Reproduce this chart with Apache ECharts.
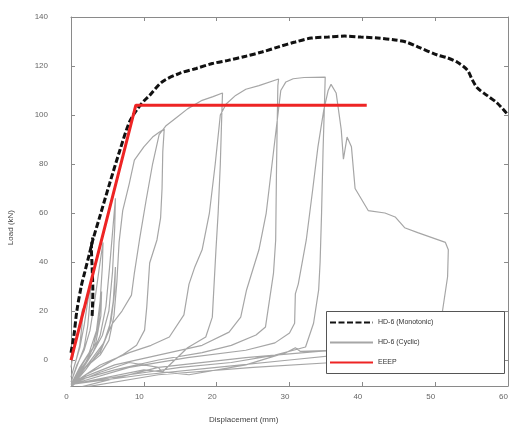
<!DOCTYPE html>
<html><head><meta charset="utf-8">
<script src="https://cdn.jsdelivr.net/npm/echarts@6/dist/echarts.min.js"></script>
<style>html,body{margin:0;padding:0;background:#fff}#c{width:511px;height:429px}</style>
</head><body><div id="c"></div>
<script>
// ---- data ----
const xTicks = [0,10,20,30,40,50,60];
const yTicks = [0,20,40,60,80,100,120,140];
const legendNames = ['HD-6 (Monotonic)','HD-6 (Cyclic)','EEEP'];
const monoX = [0,0.4,0.8,1.4,1.9,2.5,3,4,5.3,6.7,8,9,10.1,10.8,12.5,14.9,17.2,19.4,21.7,24,26.2,28.5,30.8,33,35.3,37.6,39.8,42.1,44.5,46,47.6,50.3,51.7,53,54.4,55.1,55.8,57.1,58.5,60];
const monoY = [3,10,20,30,36,43,49,59,72,85.5,97,102,106,108,113.5,117,119,121,122.4,124,125.7,127.8,129.8,131.4,131.8,132.2,131.8,131.4,130.6,129.8,127.8,124.5,123.3,121.6,118.4,114.3,111,108,104.9,100];
const monoX2 = [2.9,3.0,2.9,2.8,3.0];
const monoY2 = [18,28,38,46,50];
const eeepX = [0,8.9,40.6];
const eeepY = [0,104,104];
const cycS1 = [[0,-3],[0.4,4],[0.9,11],[1.4,18],[1.6,21],[1.5,14],[1.2,6],[0.7,0],[0,-7]];
const cycS2 = [[0.6,-1],[1.2,5],[1.8,14],[2.3,24],[2.7,32],[2.6,24],[2.3,14],[1.8,5],[1,-1],[0,-9]];
const cycS3 = [[0.8,-2],[1.8,4],[2.6,12],[3.3,25],[3.9,38],[4.4,48],[4.3,38],[4,24],[3.5,12],[2.5,3],[1.2,-3],[0,-10]];
const cycS3t = [[1.5,-2],[3,5],[3.8,15],[4.2,28],[4.1,18],[3.4,7],[2,-1],[0,-11]];
const cycC4 = [[1.5,-3],[3,3],[4,10],[4.8,22],[5.3,38],[5.7,52],[6.1,66],[6,54],[5.7,36],[5.2,20],[4.3,10],[3,3],[1.5,-4],[0,-11]];
const cycC4t = [[2,-3],[4,3],[5.2,12],[5.8,24],[6.1,38],[6,28],[5.5,16],[4.5,7],[2.5,-1],[0,-10]];
const cycC5 = [[2,-3],[4,2],[5.2,8],[5.9,18],[6.3,32],[6.6,48],[7.1,61],[8,72],[8.7,81.6],[10,87],[11.2,91],[12.1,93],[12.8,94.3],[12.6,85],[12.5,70],[12.3,58],[11.8,49],[10.8,39.6],[10.4,21.6],[10.1,12.2],[9,6],[7,2],[4,-3],[2,-6],[0,-11]];
const cycC6 = [[2,-4],[4,4],[5.7,15],[7,20],[8.3,26.5],[8.7,35.5],[9.4,49],[10.3,65],[11.2,80],[12.1,92],[13,95.5],[14.5,99],[16,102.5],[18,106],[19.5,107.5],[20.8,109],[20.7,100],[20.5,80],[20.2,60],[19.9,45],[19.4,17.5],[18.5,9.4],[16,5],[12.5,-5],[12,-3],[8,-1],[4,-5],[0,-10]];
const cycC7 = [[4,-2],[8,3],[11,6],[13.5,9.4],[15.5,18.4],[16.2,31],[17,38],[18,45],[19,60],[19.8,80],[20.5,100],[21.3,104.5],[22.6,108],[24,110.5],[25.8,112],[28.5,114.7],[28.4,112],[28.3,95],[28.2,75],[28.1,49],[27.8,35.5],[26.7,13.5],[25.4,10.2],[22,6],[18,3],[12,0],[6,-4],[0,-9]];
const cycC8 = [[6,-2],[12,2],[18,6],[21.7,11.4],[23.3,17.5],[24.1,28.6],[25.8,45],[26.8,60],[27.8,85],[28.8,110],[29.5,113.5],[30.5,114.8],[32,115.3],[34.9,115.5],[34.8,105],[34.6,85],[34.4,60],[34.2,40],[34,28.6],[33.3,15],[32.2,5.3],[28,2],[22,-1],[15,-3],[8,-6],[0,-10]];
const cycC9 = [[8,-3],[16,1],[24,4],[28,7],[30,11],[30.7,15],[30.8,27],[31.2,31],[32.3,49],[33.2,70],[33.9,87],[34.7,102],[35.3,110],[35.7,112.5],[36.4,109],[37.1,94],[37.4,82],[37.9,91],[38.5,87],[39,70],[40.8,61],[43.1,60],[44.5,58.4],[45.8,54],[47.6,52],[51.4,48],[51.8,45],[51.7,34],[51,20],[50.4,10],[48,6],[40,3],[30,0],[20,-3],[10,-6],[0,-10]];
const cycC10 = [[10,-4],[16.2,-6],[24,-2],[29.5,3],[30.8,5],[31.5,3.5],[36,4],[42,7],[48,10],[51,18],[50,8],[45,2],[36,-1],[25,-3],[12,-6],[0,-12]];
const cycC11 = [[12,-3],[24,1],[34,3.5],[42,5],[50,7]];

const cyclic = [].concat(cycS1,cycS2,cycS3,cycS3t,cycC4,cycC4t,cycC5,cycC6,cycC7,cycC8,cycC9,cycC10,[[0,-12]],cycC11);
const zip = (a,b) => a.map((v,i)=>[v,b[i]]);

const chart = echarts.init(document.getElementById('c'), null, {renderer:'canvas'});
const lblColor = '#666';
const axisCol = '#8a8a8a';
const font = 'Liberation Sans, Arial, sans-serif';
chart.setOption({
  animation:false,
  backgroundColor:'#fff',
  grid:{left:71, top:17, width:440, height:369},
  xAxis:[
    {type:'value', min:0, max:60, interval:10, position:'bottom',
     axisLine:{onZero:false, lineStyle:{color:axisCol}}, axisTick:{inside:true, length:4, lineStyle:{color:axisCol}},
     axisLabel:{color:lblColor, fontSize:8, fontFamily:font, margin:7, padding:[0,9,0,0], customValues:xTicks}, splitLine:{show:false}},
    {type:'value', min:0, max:60, interval:10, position:'top',
     axisLine:{onZero:false, lineStyle:{color:axisCol}}, axisTick:{inside:true, length:4, lineStyle:{color:axisCol}},
     axisLabel:{show:false}, splitLine:{show:false}}
  ],
  yAxis:[
    {type:'value', min:-10.6, max:140, position:'left',
     axisLine:{onZero:false, lineStyle:{color:axisCol}}, axisTick:{inside:true, length:4, customValues:yTicks, lineStyle:{color:axisCol}},
     axisLabel:{color:lblColor, fontSize:8, fontFamily:font, margin:23, padding:[0,0,11,0], customValues:yTicks}, splitLine:{show:false}},
    {type:'value', min:-10.6, max:140, position:'right',
     axisLine:{onZero:false, lineStyle:{color:axisCol}}, axisTick:{inside:true, length:4, customValues:yTicks, lineStyle:{color:axisCol}},
     axisLabel:{show:false}, splitLine:{show:false}}
  ],
  legend:{
    orient:'vertical', left:324, top:314, itemWidth:43, itemHeight:8, itemGap:13,
    data:legendNames, z:20, itemStyle:{opacity:0},
    textStyle:{fontSize:7, color:'#333', fontFamily:font, verticalAlign:'bottom'}
  },
  graphic:[
    {type:'rect', z:10, shape:{x:326.5, y:311.5, width:178, height:62}, style:{fill:'#fff', stroke:'#555', lineWidth:1}},
    {type:'text', left:7, top:210, rotation:Math.PI/2, style:{text:'Load (kN)', fontSize:8, fill:'#444', fontFamily:font}},
    {type:'text', left:209, top:416, style:{text:'Displacement (mm)', fontSize:8, fill:'#444', fontFamily:font}}
  ],
  series:[
    {name:'HD-6 (Cyclic)', type:'line', data:cyclic, showSymbol:false, symbol:'none', z:2,
     lineStyle:{color:'#a6a6a6', width:1.2}, itemStyle:{color:'#a6a6a6'}},
    {name:'HD-6 (Monotonic)', type:'line', data:zip(monoX,monoY), showSymbol:false, symbol:'none', z:3, smooth:0.3,
     lineStyle:{color:'#111', width:3, type:[6,2.5]}, itemStyle:{color:'#111'}},
    {name:'HD-6 (Monotonic)', type:'line', data:zip(monoX2,monoY2), showSymbol:false, symbol:'none', z:3, smooth:0.3,
     lineStyle:{color:'#111', width:3, type:[6,2.5]}, itemStyle:{color:'#111'}},
    {name:'EEEP', type:'line', data:zip(eeepX,eeepY), showSymbol:false, symbol:'none', z:4,
     lineStyle:{color:'#ee2424', width:3}, itemStyle:{color:'#ee2424'}}
  ]
});
</script></body></html>
